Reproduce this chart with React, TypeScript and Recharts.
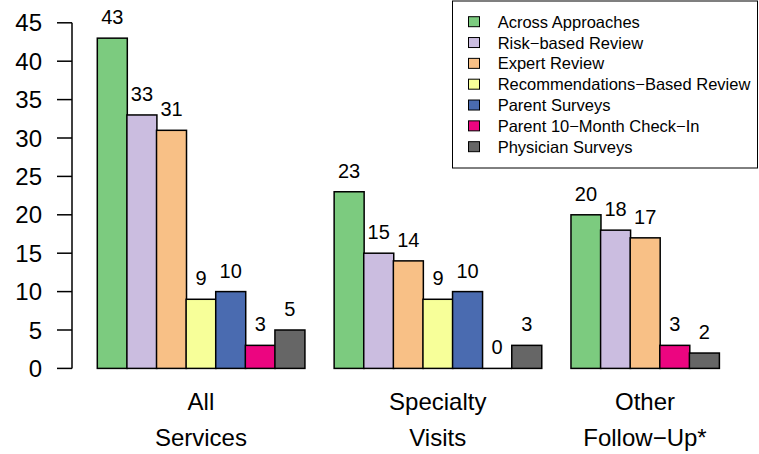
import React from "react";
import { BarChart, Bar, XAxis, YAxis, LabelList, Legend } from "recharts";

const categoryLines: string[][] = [
  ["All", "Services"],
  ["Specialty", "Visits"],
  ["Other", "Follow\u2212Up*"],
];

const seriesNames = [
  "Across Approaches",
  "Risk\u2212based Review",
  "Expert Review",
  "Recommendations\u2212Based Review",
  "Parent Surveys",
  "Parent 10\u2212Month Check\u2212In",
  "Physician Surveys",
];

const seriesColors = [
  "#7CCB7F",
  "#CBBDE0",
  "#F8C086",
  "#F7FF99",
  "#4A6BB0",
  "#EC0580",
  "#666666",
];

const allServices: (number | null)[] = [43, 33, 31, 9, 10, 3, 5];
const specialtyVisits: (number | null)[] = [23, 15, 14, 9, 10, 0, 3];
const otherFollowUp: (number | null)[] = [20, 18, 17, null, null, 3, 2];

const groupValues = [allServices, specialtyVisits, otherFollowUp];

const yTicks = [0, 5, 10, 15, 20, 25, 30, 35, 40, 45];

type Slot = {
  key: string;
  value: number | null;
  color: string;
  label: string[] | null;
};

const slots: Slot[] = [];
groupValues.forEach((vals, gi) => {
  if (gi > 0) {
    slots.push({ key: "gap" + gi, value: null, color: "none", label: null });
  }
  const present = vals
    .map((v, si) => ({ v, si }))
    .filter((d) => d.v !== null);
  const mid = Math.floor(present.length / 2);
  present.forEach((d, i) => {
    slots.push({
      key: "g" + gi + "s" + d.si,
      value: d.v,
      color: seriesColors[d.si],
      label: i === mid ? categoryLines[gi] : null,
    });
  });
});

const FONT = "'Liberation Sans', Arial, Helvetica, sans-serif";

const BarShape = (props: any) => {
  const { x, y, width, height, payload } = props;
  if (!payload || payload.value == null) return null;
  if (!height || isNaN(height)) {
    return (
      <line x1={x} x2={x + width} y1={y} y2={y} stroke="#000" strokeWidth={1.5} />
    );
  }
  return (
    <rect
      x={x}
      y={y}
      width={width}
      height={height}
      fill={payload.color}
      stroke="#000"
      strokeWidth={1.5}
    />
  );
};

const XTick = (props: any) => {
  const { x, y, payload } = props;
  const slot = slots[payload.index];
  if (!slot || !slot.label) return null;
  return (
    <text x={x} textAnchor="middle" fontSize={24} fontFamily={FONT} fill="#000">
      <tspan x={x} y={y + 41.6}>
        {slot.label[0]}
      </tspan>
      <tspan x={x} y={y + 77.6}>
        {slot.label[1]}
      </tspan>
    </text>
  );
};

const LegendBox = () => (
  <svg width={307} height={170} style={{ display: "block" }}>
    <rect x={0.5} y={1} width={305} height={167} fill="#fff" stroke="#000" strokeWidth={1} />
    {seriesNames.map((name, i) => {
      const cy = 21.7 + 20.83 * i;
      return (
        <g key={name}>
          <rect
            x={16.5}
            y={cy - 5}
            width={11}
            height={10}
            fill={seriesColors[i]}
            stroke="#000"
            strokeWidth={1}
          />
          <text x={45.7} y={cy + 6} fontSize={16.5} fontFamily={FONT} fill="#000">
            {name}
          </text>
        </g>
      );
    })}
  </svg>
);

export default function App() {
  return (
    <div style={{ position: "absolute", left: 0, top: 0, width: 759, height: 454, background: "#fff" }}>
      <BarChart
        width={759}
        height={454}
        data={slots}
        margin={{ top: 22.8, right: 40, bottom: 0, left: 0 }}
        barCategoryGap={0}
        barGap={0}
      >
        <XAxis
          dataKey="key"
          axisLine={false}
          tickLine={false}
          tickSize={0}
          tickMargin={0}
          interval={0}
          height={85.6}
          padding={{ left: 25.3, right: 0 }}
          tick={<XTick />}
        />
        <YAxis
          width={72}
          domain={[0, 45]}
          ticks={yTicks}
          interval={0}
          axisLine={{ stroke: "#000", strokeWidth: 1.5 }}
          tickLine={{ stroke: "#000", strokeWidth: 1.5 }}
          tickSize={15}
          tickMargin={15}
          tick={{ fontSize: 24, fontFamily: FONT, fill: "#000" }}
        />
        <Legend
          layout="horizontal"
          verticalAlign="middle"
          align="center"
          content={() => <LegendBox />}
          wrapperStyle={{ position: "absolute", top: 0, left: 452, width: 307, height: 170 }}
        />
        <Bar dataKey="value" isAnimationActive={false} shape={<BarShape />}>
          <LabelList
            dataKey="value"
            position="top"
            offset={14}
            fontSize={20}
            fontFamily={FONT}
            fill="#000"
          />
        </Bar>
      </BarChart>
    </div>
  );
}
